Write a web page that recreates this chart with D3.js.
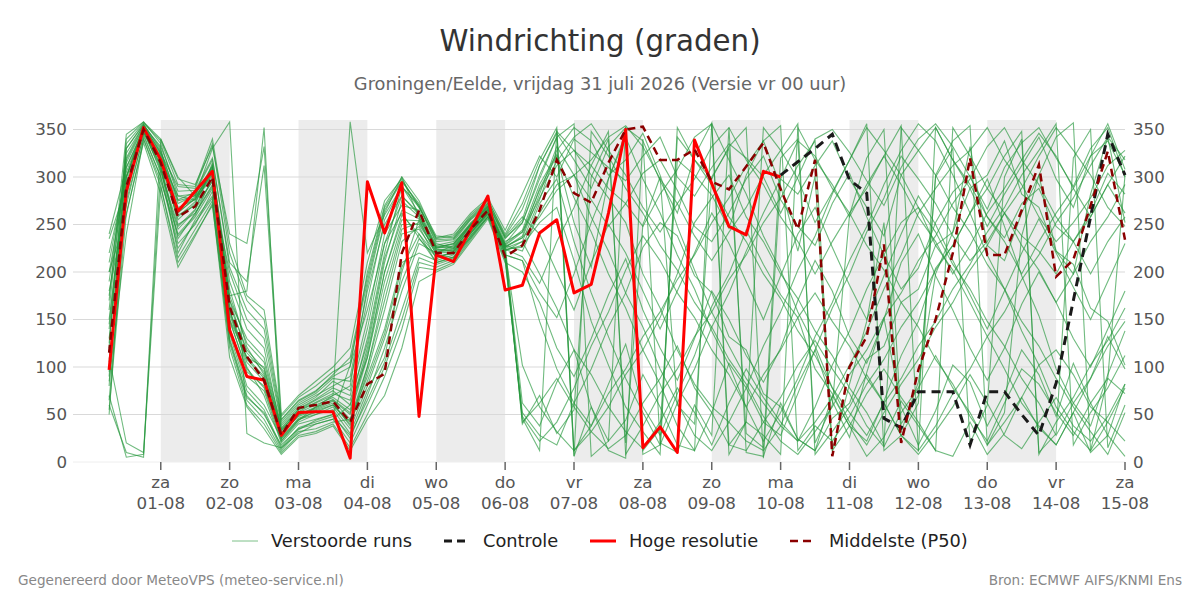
<!DOCTYPE html>
<html>
<head>
<meta charset="utf-8">
<script src="https://cdn.jsdelivr.net/npm/d3@7"></script>
<style>
  body { margin: 0; background: #fff; }
  svg { display: block; font-family: "DejaVu Sans", sans-serif; }
</style>
</head>
<body>
<svg id="chart" width="1200" height="600"></svg>
<script>
// ---------- data (6-hourly, 31-07 06:00 .. 15-08 00:00)
var dayNames = ['za', 'zo', 'ma', 'di', 'wo', 'do', 'vr', 'za', 'zo', 'ma', 'di', 'wo', 'do', 'vr', 'za'];
var dayDates = ['01-08', '02-08', '03-08', '04-08', '05-08', '06-08', '07-08', '08-08', '09-08', '10-08', '11-08', '12-08', '13-08', '14-08', '15-08'];
var yTicks = [0, 50, 100, 150, 200, 250, 300, 350];

var hoogeResolutie = [
  97, 285, 352, 318, 264, 285, 306, 139, 90, 86,
  28, 52, 53, 53, 4, 295, 241, 294, 48, 218,
  211, 245, 280, 181, 186, 241, 255, 178, 187, 262,
  350, 15, 37, 10, 339, 293, 248, 239, 306, 300
];

// control is only shown from 10-08 00:00
var controle = [
  302, 316, 330, 345, 297, 283, 46, 36, 74, 74,
  74, 18, 74, 74, 50, 28, 83, 170, 258, 345, 302
];

var middelste = [
  115, 290, 350, 315, 258, 269, 300, 164, 111, 86,
  28, 57, 60, 64, 42, 82, 93, 220, 265, 220,
  220, 245, 265, 216, 228, 265, 318, 283, 273, 315,
  350, 353, 318, 318, 329, 295, 287, 311, 336, 287,
  245, 318, 6, 100, 132, 229, 20, 97, 150, 220,
  320, 218, 218, 265, 313, 195, 213, 270, 327, 234
];

var members = [
  [150,300,352,322,268,276,302,182,121,92, 30,48,55,62,38,95,160,232,248,214, 222,241,262,226,238,288,322,252,205,298, 346,12,35,318,302,281,246,302,338,291, 222,301,12,82,148,252,32,84,198,242, 332,228,212,262,302,222,198,282,342,252],
  [80,320,355,330,250,262,290,160,100,70, 20,40,45,50,25,70,120,180,230,220, 228,250,270,222,62,38,84,118,58,22, 44,92,58,18,12,52,104,78,42,28, 72,118,64,26,94,152,58,18,54,102, 84,38,72,118,92,48,104,62,28,82],
  [60,10,5,340,300,280,330,358,30,20, 15,30,40,45,60,110,200,260,240,210, 215,238,258,230,252,302,342,356,6,22, 352,338,296,262,322,357,8,42,352,328, 298,252,284,318,356,12,28,62,302,338, 354,18,52,238,302,342,357,12,88,302],
  [180,270,345,300,230,250,285,200,150,130, 40,60,70,80,90,180,250,280,260,225, 230,252,268,228,222,262,292,302,276,248, 272,304,318,286,248,232,262,298,322,276, 248,228,272,304,258,218,182,204,252,284, 302,258,236,272,288,248,232,262,304,282],
  [120,340,358,335,280,282,310,140,80,60, 25,45,50,55,30,75,110,200,255,218, 215,244,266,218,212,148,98,62,38,82, 124,58,28,72,112,164,198,244,208,176, 152,98,72,38,22,64,112,148,204,228, 262,298,248,196,154,98,62,38,92,138],
  [240,310,350,315,260,270,295,150,110,100, 35,55,65,75,60,130,220,290,270,230, 225,250,272,235,255,312,346,318,288,332, 352,8,18,342,318,298,332,352,4,298, 282,312,338,298,268,238,302,328,352,318, 288,248,282,312,342,298,268,322,356,308],
  [100,290,348,310,220,255,280,130,70,50, 18,35,40,45,20,60,100,150,210,205, 212,236,260,222,232,198,162,118,92,58, 32,14,42,78,52,18,62,98,68,42, 22,58,102,138,182,218,252,268,228,202, 168,132,98,62,38,18,52,88,132,98],
  [160,330,355,325,290,288,335,220,170,150, 45,65,75,90,100,200,270,300,275,235, 238,258,275,240,272,318,352,12,32,58, 92,118,152,198,252,278,302,258,232,198, 172,138,112,78,52,18,352,328,302,268, 242,208,182,148,122,88,58,32,8,52],
  [70,5,8,290,210,240,270,125,65,45, 12,32,35,42,45,90,140,210,220,212, 218,240,264,214,52,28,18,62,98,142, 178,226,252,238,196,178,132,118,72,58, 24,12,46,62,108,122,168,182,228,242, 288,302,338,282,268,222,208,162,148,102],
  [200,260,340,295,240,260,300,170,130,110, 38,58,68,85,75,150,240,270,265,228, 232,255,270,232,242,278,312,328,302,278, 252,198,162,118,82,58,42,22,12,38, 82,118,162,198,242,278,322,298,272,238, 212,232,262,288,322,352,328,302,268,248],
  [130,280,350,305,245,265,315,150,95,80, 28,50,58,65,50,110,190,250,250,222, 224,246,266,224,226,272,298,232,178,132, 88,52,18,62,98,142,178,222,262,298, 338,322,288,262,228,202,168,142,108,82, 48,22,62,98,82,52,28,62,88,72],
  [90,330,356,328,275,280,305,190,140,120, 32,55,62,70,358,220,260,290,262,226, 226,248,268,226,236,258,286,302,318,342, 354,332,298,272,238,212,242,268,302,328, 356,8,32,58,92,62,28,12,352,318, 292,258,232,198,232,262,288,322,338,302],
  [50,300,346,318,255,272,310,140,90,75, 22,42,50,58,35,80,130,190,235,216, 220,242,262,220,42,62,88,58,32,14, 28,62,88,122,78,52,18,12,42,68, 102,128,98,72,38,16,52,78,112,78, 52,18,42,68,102,118,92,58,42,22],
  [175,315,352,320,262,278,298,170,115,95, 34,52,60,68,55,120,210,275,258,224, 222,244,265,225,232,276,328,352,338,302, 318,346,302,248,202,158,122,88,62,38, 22,42,68,102,138,182,218,262,288,312, 328,352,318,292,258,232,252,278,312,328],
  [110,20,10,310,235,262,292,155,105,85, 26,46,52,60,40,100,170,240,245,220, 221,243,263,223,228,252,268,212,148,102, 58,32,8,352,318,292,258,232,198,172, 138,112,78,52,28,62,88,122,148,182, 208,242,268,302,328,356,18,52,78,112],
  [140,295,349,312,258,274,305,160,110,90, 30,50,56,64,45,100,180,245,252,221, 223,247,267,227,236,282,332,302,258,222, 178,142,98,62,28,12,42,78,122,158, 202,238,282,318,352,328,302,268,242,208, 182,148,122,88,62,28,62,88,122,148],
  [95,325,354,332,285,286,320,205,160,140, 42,62,72,88,85,170,255,290,268,232, 234,256,272,236,252,298,342,6,348,322, 288,262,228,202,168,142,108,82,48,22, 8,32,58,92,118,152,178,212,238,272, 298,332,352,318,292,258,232,198,232,258],
  [65,275,343,300,225,252,278,135,75,55, 16,36,42,48,28,65,105,160,215,208, 214,238,262,218,212,178,152,198,252,298, 342,298,262,218,182,138,102,58,22,52, 88,132,168,212,248,292,328,356,338,302, 262,218,182,138,102,58,32,12,42,78],
  [210,305,351,317,266,279,303,175,125,105, 36,56,66,78,70,140,230,280,262,227, 229,251,269,229,244,292,324,278,242,198, 162,118,82,38,12,356,318,282,238,202, 158,122,78,42,18,52,82,108,142,168, 202,228,262,238,222,198,232,258,292,262],
  [125,335,357,338,292,290,340,230,175,160, 48,68,80,95,105,190,265,295,272,238, 236,260,276,238,266,312,348,328,312,288, 272,248,282,308,342,356,18,42,28,8, 352,318,292,258,292,322,354,12,38,72, 98,132,158,192,218,252,278,312,342,318],
  [85,240,340,290,215,245,275,120,60,40, 10,28,32,40,15,50,90,140,205,202, 210,234,258,212,48,22,42,78,122,158, 202,238,212,178,152,118,92,58,92,118, 152,178,148,122,88,62,28,8,32,58, 92,62,28,14,42,68,38,22,48,82],
  [190,318,353,324,272,281,312,165,118,98, 33,53,63,72,65,125,215,265,256,225, 227,249,269,228,242,286,316,342,356,328, 302,268,242,272,298,332,352,318,292,258, 232,198,232,262,288,322,292,258,232,198, 228,262,288,318,346,322,288,258,292,322],
  [145,310,350,319,263,277,308,158,108,88, 29,49,57,66,52,115,200,255,254,223, 225,245,265,224,216,188,232,268,312,348, 8,38,72,98,132,158,192,218,252,278, 312,338,12,38,72,98,68,42,12,352, 322,288,262,228,202,168,198,232,258,292],
  [235,290,347,308,248,266,296,148,98,78, 24,44,54,60,42,85,135,205,240,217, 219,241,261,221,102,58,32,12,38,72, 98,132,158,192,218,252,278,312,338,354, 12,38,22,48,82,108,142,168,202,228, 262,288,322,348,8,42,68,102,128,162],
  [105,285,350,312,238,258,288,128,68,52, 14,34,44,50,102,160,230,262,236,210, 216,236,258,216,46,12,350,6,58,12, 4,340,20,10,60,28,352,10,6,62, 24,12,70,38,6,26,64,38,12,6, 42,8,30,68,36,18,52,10,28,6],
  [170,345,358,340,298,292,332,240,230,332, 50,70,85,100,120,210,275,298,268,236, 240,262,278,244,282,322,300,340,326,310, 296,322,342,300,280,310,335,320,300,262, 300,340,350,326,296,270,310,340,356,332, 300,266,310,336,352,320,290,330,352,300],
  [55,262,336,282,205,238,272,110,58,35, 8,26,30,38,12,45,70,120,190,200, 208,232,256,210,200,168,120,90,130,176, 214,160,120,86,130,180,150,112,84,120, 170,212,180,132,104,150,210,240,196,160, 120,86,120,166,200,168,130,100,140,180],
  [220,300,354,326,276,284,318,210,190,312, 44,64,74,92,110,195,268,296,270,234, 235,257,273,237,258,240,200,160,210,250, 220,180,140,180,220,262,230,190,150,196, 240,268,226,186,150,196,240,280,250,212, 176,140,180,220,256,220,184,150,190,230],
  [200,300,350,318,280,276,312,175,180,352, 22,44,58,70,80,185,262,300,258,226, 230,250,266,230,40,70,30,55,300,340, 20,250,300,60,40,300,330,30,15,320, 340,20,60,260,320,350,40,70,300,330, 20,60,300,340,10,30,320,350,15,60]
];

// ---------- layout
var svg = d3.select('#chart');
var plotLeft = 73, plotRight = 1125, plotTop = 120, plotBottom = 462;
var startTime = new Date(2026, 6, 31, 6);
var times = d3.range(60).map(function(i) { return d3.timeHour.offset(startTime, i * 6); });
var dayStarts = dayDates.map(function(d, i) { return new Date(2026, 7, i + 1); });

var x = d3.scaleTime()
  .domain([new Date(2026, 6, 30, 17, 25), new Date(2026, 7, 15, 0)])
  .range([plotLeft, plotRight]);
var y = d3.scaleLinear().domain([0, 360]).range([plotBottom, plotTop]);

// ---------- alternating day shading
svg.append('g').selectAll('rect')
  .data(dayStarts.filter(function(d, i) { return i % 2 === 0 && i < 14; }))
  .enter().append('rect')
  .attr('x', function(d) { return x(d); })
  .attr('y', plotTop)
  .attr('width', function(d) { return x(d3.timeDay.offset(d, 1)) - x(d); })
  .attr('height', plotBottom - plotTop)
  .attr('fill', '#ececec');

// ---------- grid
svg.append('g').selectAll('line')
  .data(yTicks)
  .enter().append('line')
  .attr('x1', plotLeft).attr('x2', plotRight)
  .attr('y1', function(d) { return y(d); })
  .attr('y2', function(d) { return y(d); })
  .attr('stroke', function(d) { return d === 0 ? '#eeeeee' : '#d9d9d9'; })
  .attr('stroke-width', 1);

// ---------- y labels, both sides
var yl = svg.append('g').attr('font-size', 16.7).attr('fill', '#555');
yTicks.forEach(function(v) {
  yl.append('text').attr('x', 67).attr('y', y(v)).attr('dy', '0.35em')
    .attr('text-anchor', 'end').text(v);
  yl.append('text').attr('x', 1133).attr('y', y(v)).attr('dy', '0.35em')
    .attr('text-anchor', 'start').text(v);
});

// ---------- x ticks and labels
var xl = svg.append('g').attr('font-size', 16.7).attr('fill', '#555').attr('text-anchor', 'middle');
dayStarts.forEach(function(d, i) {
  var px = x(d);
  xl.append('line').attr('x1', px).attr('x2', px).attr('y1', plotBottom).attr('y2', plotBottom + 8)
    .attr('stroke', '#666').attr('stroke-width', 1.5);
  xl.append('text').attr('x', px).attr('y', 488).text(dayNames[i]);
  xl.append('text').attr('x', px).attr('y', 509).text(dayDates[i]);
});

// ---------- lines
var line = d3.line()
  .x(function(d) { return x(d.t); })
  .y(function(d) { return y(d.v); });

function toPoints(values, offset) {
  return values.map(function(v, i) { return { t: times[i + offset], v: v }; });
}

svg.append('g').selectAll('path')
  .data(members)
  .enter().append('path')
  .attr('d', function(d) { return line(toPoints(d, 0)); })
  .attr('fill', 'none')
  .attr('stroke', '#24973a')
  .attr('stroke-opacity', 0.65)
  .attr('stroke-width', 1.1);

svg.append('path')
  .attr('d', line(toPoints(controle, 39)))
  .attr('fill', 'none').attr('stroke', '#1a1a1a')
  .attr('stroke-width', 3).attr('stroke-dasharray', '9,6');

svg.append('path')
  .attr('d', line(toPoints(hoogeResolutie, 0)))
  .attr('fill', 'none').attr('stroke', '#ff0000')
  .attr('stroke-width', 3).attr('stroke-linejoin', 'round');

svg.append('path')
  .attr('d', line(toPoints(middelste, 0)))
  .attr('fill', 'none').attr('stroke', '#8b0000')
  .attr('stroke-width', 2.5).attr('stroke-dasharray', '8,5');

// ---------- titles
svg.append('text').attr('x', 600).attr('y', 51).attr('text-anchor', 'middle')
  .attr('font-size', 29.3).attr('fill', '#333').text('Windrichting (graden)');
svg.append('text').attr('x', 600).attr('y', 90).attr('text-anchor', 'middle')
  .attr('font-size', 17.8).attr('fill', '#666')
  .text('Groningen/Eelde, vrijdag 31 juli 2026 (Versie vr 00 uur)');

// ---------- legend
var legend = [
  { label: 'Verstoorde runs', x: 232, color: '#24973a', width: 1, dash: null, opacity: 0.6 },
  { label: 'Controle', x: 444, color: '#1a1a1a', width: 3, dash: '8,5', opacity: 1 },
  { label: 'Hoge resolutie', x: 590, color: '#ff0000', width: 3, dash: null, opacity: 1 },
  { label: 'Middelste (P50)', x: 790, color: '#8b0000', width: 2.5, dash: '8,5', opacity: 1 }
];
var lg = svg.append('g');
legend.forEach(function(d) {
  lg.append('line').attr('x1', d.x).attr('x2', d.x + 26).attr('y1', 541).attr('y2', 541)
    .attr('stroke', d.color).attr('stroke-width', d.width)
    .attr('stroke-opacity', d.opacity)
    .attr('stroke-dasharray', d.dash);
  lg.append('text').attr('x', d.x + 39).attr('y', 541).attr('dy', '0.35em')
    .attr('font-size', 17.8).attr('fill', '#222').text(d.label);
});

// ---------- footer
svg.append('text').attr('x', 18).attr('y', 585).attr('font-size', 13.6).attr('fill', '#888')
  .text('Gegenereerd door MeteoVPS (meteo-service.nl)');
svg.append('text').attr('x', 1182).attr('y', 585).attr('text-anchor', 'end')
  .attr('font-size', 13.6).attr('fill', '#888').text('Bron: ECMWF AIFS/KNMI Ens');
</script>
</body>
</html>
